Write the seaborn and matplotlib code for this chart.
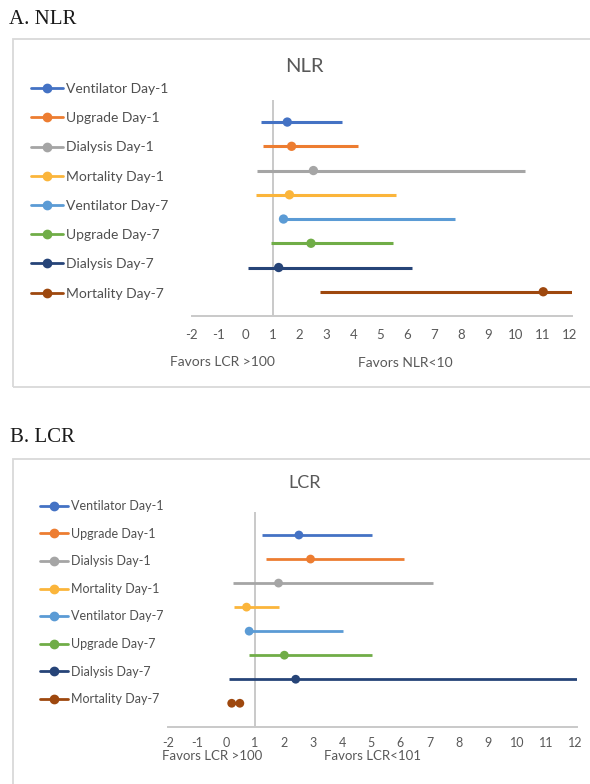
import numpy as np
import pandas as pd
import matplotlib
matplotlib.use("Agg")
import matplotlib.pyplot as plt
import seaborn as sns
from matplotlib.lines import Line2D
from matplotlib.patches import Rectangle

sns.set_style("white")
plt.rcParams['font.family'] = ['Lato', 'DejaVu Sans']
plt.rcParams['axes.unicode_minus'] = False

# data
labels = ["Ventilator Day-1", "Upgrade Day-1", "Dialysis Day-1", "Mortality Day-1",
          "Ventilator Day-7", "Upgrade Day-7", "Dialysis Day-7", "Mortality Day-7"]
colors = ["#4472C4", "#ED7D31", "#A5A5A5", "#FBB53B",
          "#5B9BD5", "#70AD47", "#264478", "#9E480E"]

nlr_est = [1.54, 1.70, 2.51, 1.62, 1.40, 2.42, 1.22, 11.04]
nlr_low = [0.55, 0.63, 0.41, 0.38, 1.38, 0.93, 0.09, 2.76]
nlr_high = [3.56, 4.18, 10.38, 5.56, 7.78, 5.48, 6.16, 12.10]

lcr_est = [2.51, 2.91, 1.81, 0.71, 0.80, 2.01, 2.40, 0.20]
lcr_low = [1.23, 1.38, 0.25, 0.27, 0.80, 0.79, 0.10, 0.20]
lcr_high = [5.03, 6.13, 7.13, 1.84, 4.04, 5.03, 12.06, 0.48]
lcr_extra = [np.nan] * 7 + [0.48]   # second dot on Mortality Day-7

ticks = list(range(-2, 13))

W, H = 590, 784
TXT = "#595959"
GRID = "#C9C9C9"


def fx(px):
    return px / W


def fy(py):
    return 1 - py / H


def forest(ax, est, low, high, extra, xmax, ytop, lw, ms, tickpad, ticksize):
    df = pd.DataFrame({"label": labels, "row": range(len(labels)),
                       "est": est, "low": low, "high": high, "extra": extra})
    pal = dict(zip(labels, colors))
    ax.axvline(1, color=GRID, lw=1.4, zorder=0)
    ax.hlines(df["row"], df["low"], df["high"], colors=colors, lw=lw, zorder=2)
    sns.scatterplot(data=df, x="est", y="row", hue="label", palette=pal, s=ms,
                    edgecolor="none", legend=False, ax=ax, zorder=3)
    ext = df.dropna(subset=["extra"])
    sns.scatterplot(data=ext, x="extra", y="row", hue="label", palette=pal, s=ms,
                    edgecolor="none", legend=False, ax=ax, zorder=3)
    ax.set_xlim(-2, xmax)
    ax.set_ylim(8.0, ytop)
    ax.set_xticks(ticks)
    ax.set_yticks([])
    ax.set_xlabel("")
    ax.set_ylabel("")
    for s in ["top", "left", "right"]:
        ax.spines[s].set_visible(False)
    ax.spines["bottom"].set_color(GRID)
    ax.spines["bottom"].set_linewidth(1.4)
    ax.tick_params(axis="x", length=0, pad=tickpad, labelsize=ticksize, colors=TXT)
    ax.patch.set_alpha(0)


def legend(fig, x, y, size, spacing, hlen):
    handles = [Line2D([], [], color=c, marker="o", markersize=6, lw=2) for c in colors]
    fig.legend(handles, labels, loc="upper left", bbox_to_anchor=(fx(x), fy(y)),
               frameon=False, fontsize=size, labelcolor="#505050", handlelength=hlen,
               handletextpad=0.25, labelspacing=spacing, borderpad=0, borderaxespad=0)


fig = plt.figure(figsize=(W / 100, H / 100), dpi=100)

# panel frames (right side runs off the page)
fig.add_artist(Rectangle((fx(13), fy(387)), 1.2, (387 - 39) / H, transform=fig.transFigure,
                         fill=False, edgecolor="#D9D9D9", lw=1.3))
fig.add_artist(Rectangle((fx(13), fy(800)), 1.2, (800 - 459) / H, transform=fig.transFigure,
                         fill=False, edgecolor="#D9D9D9", lw=1.3))

# A. NLR
fig.text(fx(9), fy(19), "A. NLR", family="Liberation Serif", fontsize=15, va="center", color="#1a1a1a")
ax1 = fig.add_axes([fx(191.9), fy(316), (571.8 - 191.9) / W, (316 - 100) / H])
forest(ax1, nlr_est, nlr_low, nlr_high, [np.nan] * 8, 12.1, -0.91, 2.2, 45, 9, 9.5)
fig.text(fx(304), fy(67), "NLR", fontsize=14.5, ha="center", va="center", color=TXT)
fig.text(fx(222), fy(362), "Favors LCR >100", fontsize=10, ha="center", va="center", color=TXT)
fig.text(fx(405), fy(363), "Favors NLR<10", fontsize=10, ha="center", va="center", color=TXT)
legend(fig, 31, 83, 10, 1.24, 2.3)

# B. LCR
fig.text(fx(10), fy(437), "B. LCR", family="Liberation Serif", fontsize=15, va="center", color="#1a1a1a")
ax2 = fig.add_axes([fx(167.7), fy(727.3), (577.3 - 167.7) / W, (727.3 - 511.7) / H])
forest(ax2, lcr_est, lcr_low, lcr_high, lcr_extra, 12.08, -0.97, 2.0, 40, 7, 9)
fig.text(fx(305), fy(483), "LCR", fontsize=13, ha="center", va="center", color=TXT)
fig.text(fx(211.7), fy(756), "Favors LCR >100", fontsize=9.5, ha="center", va="center", color=TXT)
fig.text(fx(372.5), fy(756), "Favors LCR<101", fontsize=9.5, ha="center", va="center", color=TXT)
legend(fig, 40, 500, 9, 1.25, 2.2)

fig.savefig("out.png", dpi=100)
